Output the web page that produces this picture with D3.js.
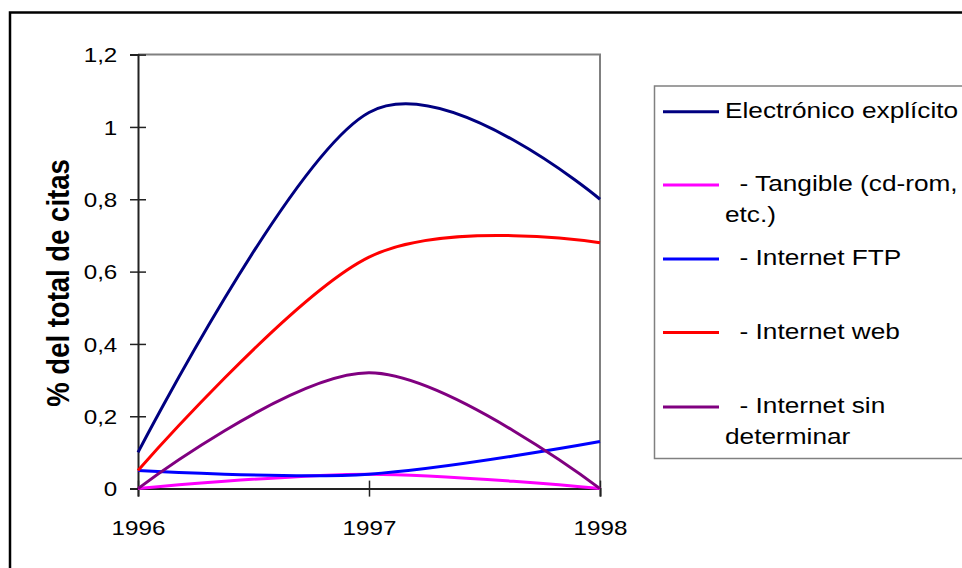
<!DOCTYPE html>
<html>
<head>
<meta charset="utf-8">
<script src="https://cdn.jsdelivr.net/npm/d3@7"></script>
<style>
  html, body { margin: 0; padding: 0; background: #fff; }
  svg { display: block; font-family: "Liberation Sans", Arial, sans-serif; }
  text { white-space: pre; }
</style>
</head>
<body>
<svg id="chart" width="962" height="568"></svg>
<script>
// Years on the category axis
const years = ["1996", "1997", "1998"];

// Share of all citations (%) per citation type
const electronicoExplicito = [0.10, 1.04, 0.80];
const tangible            = [0.00, 0.04, 0.00];
const internetFTP         = [0.05, 0.04, 0.13];
const internetWeb         = [0.05, 0.64, 0.68];
const internetSinDet      = [0.00, 0.32, 0.00];

const seriesNames = [
  ["Electrónico explícito"],
  ["  - Tangible (cd-rom,", "etc.)"],
  ["  - Internet FTP"],
  ["  - Internet web"],
  ["  - Internet sin", "determinar"]
];
const seriesValues = [electronicoExplicito, tangible, internetFTP, internetWeb, internetSinDet];
const seriesColors = ["#000080", "#FF00FF", "#0000FF", "#FF0000", "#800080"];

// Value axis ticks and their labels (comma decimals)
const yTicks = [0, 0.2, 0.4, 0.6, 0.8, 1, 1.2];
const yTickLabels = ["0", "0,2", "0,4", "0,6", "0,8", "1", "1,2"];
const yTitle = "% del total de citas";

const svg = d3.select("#chart");

// Outer frame of the chart
svg.append("rect")
  .attr("x", 10).attr("y", 12.5)
  .attr("width", 1000).attr("height", 1000)
  .attr("fill", "none").attr("stroke", "#000").attr("stroke-width", 2.5);

const plot = { left: 138, right: 600, top: 54.6, bottom: 488.6 };

const x = d3.scalePoint().domain(years).range([plot.left, plot.right]);
const y = d3.scaleLinear().domain([0, 1.2]).range([plot.bottom, plot.top]);

const TICK_FS = 20.5, TICK_SX = 1.18;

// Plot area frame: grey top and right edges
svg.append("path")
  .attr("d", `M${plot.left},${plot.top}H${plot.right}V${plot.bottom}`)
  .attr("fill", "none").attr("stroke", "#808080").attr("stroke-width", 2);

// Value axis
const gy = svg.append("g")
  .attr("transform", `translate(${plot.left},0)`)
  .call(d3.axisLeft(y).tickValues(yTicks)
    .tickFormat((d, i) => yTickLabels[i]).tickSizeOuter(0).tickSize(8));
gy.select(".domain").attr("stroke", "#222").attr("stroke-width", 2);
gy.selectAll(".tick line").attr("x1", 8).attr("x2", -8)
  .attr("stroke", "#222").attr("stroke-width", 1.5);
gy.selectAll(".tick text")
  .attr("font-family", "Liberation Sans, Arial, sans-serif")
  .attr("font-size", TICK_FS).attr("fill", "#000")
  .attr("text-anchor", "end")
  .attr("x", -20.7 / TICK_SX).attr("dy", null).attr("y", 7.3)
  .attr("transform", `scale(${TICK_SX},1)`);

// Category axis
const gx = svg.append("g")
  .attr("transform", `translate(0,${plot.bottom})`)
  .call(d3.axisBottom(x).tickSizeOuter(0).tickSize(8));
gx.select(".domain").attr("stroke", "#222").attr("stroke-width", 2);
gx.selectAll(".tick line").attr("y1", -8).attr("y2", 8)
  .attr("stroke", "#222").attr("stroke-width", 1.5);
gx.selectAll(".tick text")
  .attr("font-family", "Liberation Sans, Arial, sans-serif")
  .attr("font-size", TICK_FS).attr("fill", "#000")
  .attr("text-anchor", "middle")
  .attr("x", 0).attr("dy", null).attr("y", 46.5)
  .attr("transform", `scale(${TICK_SX},1)`);

// Axis title
svg.append("text")
  .attr("transform", "translate(69,283) scale(1.15,1) rotate(-90)")
  .attr("text-anchor", "middle")
  .attr("font-size", 27.5).attr("font-weight", "bold").attr("fill", "#000")
  .text(yTitle);

// Smoothed series lines
const line = d3.line()
  .x((d, i) => x(years[i]))
  .y(d => y(d))
  .curve(d3.curveCardinal.tension(0));

svg.append("g").selectAll("path")
  .data(seriesValues)
  .join("path")
  .attr("d", d => line(d))
  .attr("fill", "none")
  .attr("stroke", (d, i) => seriesColors[i])
  .attr("stroke-width", 3)
  .attr("stroke-linejoin", "round");

// Legend
const legend = svg.append("g");
legend.append("rect")
  .attr("x", 654.5).attr("y", 86)
  .attr("width", 400).attr("height", 372.5)
  .attr("fill", "#fff").attr("stroke", "#808080").attr("stroke-width", 1.5);

const LEG_FS = 21.5, LEG_SX = 1.22;
const rowY = [111.7, 185, 259, 332.5, 407];
const items = legend.selectAll("g.item")
  .data(seriesNames)
  .join("g").attr("class", "item")
  .attr("transform", (d, i) => `translate(0,${rowY[i]})`);

items.append("line")
  .attr("x1", 663).attr("x2", 719).attr("y1", 0).attr("y2", 0)
  .attr("stroke", (d, i) => seriesColors[i]).attr("stroke-width", 3);

items.each(function(lines) {
  const g = d3.select(this);
  lines.forEach((t, j) => {
    g.append("text")
      .attr("transform", `translate(725,${6 + j * 30.5}) scale(${LEG_SX},1)`)
      .attr("font-size", LEG_FS).attr("fill", "#000")
      .text(t);
  });
});
</script>
</body>
</html>
